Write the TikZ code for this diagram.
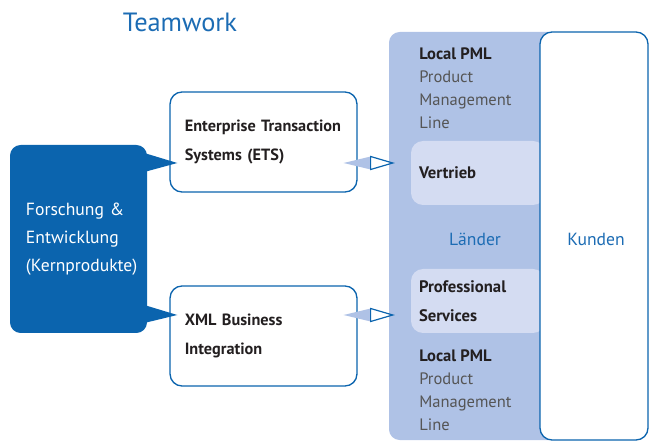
\documentclass[tikz,border=0pt]{standalone}
\usepackage{fontspec}
\setmainfont{PT Sans}
\usetikzlibrary{calc}
\definecolor{dblue}{HTML}{0B64AE}
\definecolor{tblue}{HTML}{1C6CB4}
\definecolor{pblue}{HTML}{AFC2E6}
\definecolor{lblue}{HTML}{D4DCF2}
\definecolor{tgray}{HTML}{555555}
\definecolor{tdark}{HTML}{231F20}
\tikzset{
  box/.style={draw=dblue,line width=1pt,fill=white,rounded corners=9pt,
    align=left,text=tdark,font=\fontsize{12.2}{21.75}\selectfont\bfseries,
    execute at begin node={\hyphenpenalty=10000\relax},
    inner xsep=11.1pt,text width=118pt,minimum height=75pt},
  inner/.style={fill=lblue,rounded corners=9pt,align=left,text=tdark,
    font=\fontsize{12.5}{21.75}\selectfont\bfseries,
    inner xsep=6pt,text width=88.5pt,minimum height=48pt},
  pml/.style={anchor=north west,inner sep=0pt,align=left,text=tgray,
    font=\fontsize{12.4}{17.25}\selectfont},
  label/.style={text=tblue,font=\fontsize{13.2}{15}\selectfont}
}
\begin{document}
\begin{tikzpicture}[x=0.75pt,y=-0.75pt]
\useasboundingbox (0,0) rectangle (649,441);

\node[text=tblue,font=\fontsize{19.8}{22}\selectfont] (title) at (180,22) {Teamwork};

\coordinate (row1) at (0,163);
\coordinate (row2) at (0,315);

% Laender / Kunden
\node[fill=pblue,rounded corners=8pt,minimum width=128.25pt,minimum height=306pt] (laender) at (474.5,236) {};
\node[inner] (vertrieb) at (478,173) {Vertrieb};
\node[inner] (profserv) at (478,301) {Professional\\Services};
\node[draw=dblue,line width=1pt,fill=white,rounded corners=9pt,minimum width=81pt,minimum height=306pt] (kunden) at (594,236) {};

\node[pml] (pml1) at (419,47) {\textbf{\color{tdark}Local PML}\\Product\\Management\\Line};
\node[pml] (pml2) at (419,349) {\textbf{\color{tdark}Local PML}\\Product\\Management\\Line};
\node[label] (land) at (475,239) {Länder};
\node[label] (kund) at (596,239) {Kunden};

% Forschung
\node[fill=dblue,rounded corners=8pt,align=left,text=white,
  font=\fontsize{13.2}{21}\selectfont,inner xsep=12pt,text width=78.75pt,
  minimum height=141pt] (fe) at (78.5,239) {Forschung \&\\Entwicklung\\(Kernprodukte)};
\node[box] (ets) at (263.5,142) {Enterprise Transaction\\Systems (ETS)};
\node[box] (xml) at (263.5,336) {XML Business\\Integration};

\fill[dblue] ($(fe.east|-row1)+(-3,-10)$) -- ($(fe.east|-row1)+(30,0)$) -- ($(fe.east|-row1)+(-3,9)$) -- cycle;
\fill[dblue] ($(fe.east|-row2)+(-3,-10)$) -- ($(fe.east|-row2)+(30,0)$) -- ($(fe.east|-row2)+(-3,8)$) -- cycle;

\foreach \b/\r in {ets/row1,xml/row2}
{
\fill[pblue] ($(\b.east|-\r)+(-14,0)$) -- ($(\b.east|-\r)+(13,-6.5)$) -- ($(\b.east|-\r)+(13,6.5)$) -- cycle;
\draw[dblue,line width=0.9pt,line join=miter] ($(\b.east|-\r)+(13,-6.5)$) -- ($(laender.west|-\r)+(4,0)$) -- ($(\b.east|-\r)+(13,6.5)$) -- cycle;
}
\end{tikzpicture}
\end{document}
